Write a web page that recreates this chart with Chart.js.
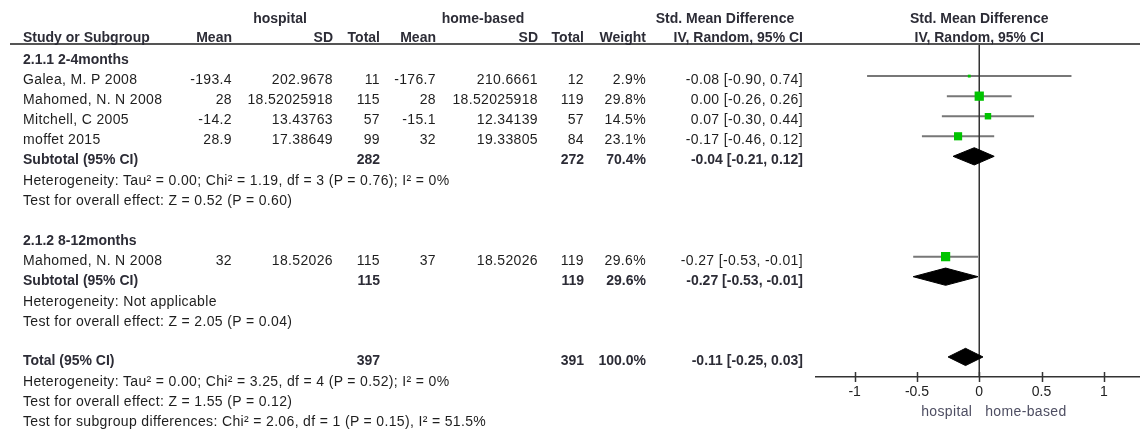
<!DOCTYPE html>
<html>
<head>
<meta charset="utf-8">
<script src="https://cdn.jsdelivr.net/npm/chart.js@4.4.1/dist/chart.umd.min.js"></script>
<style>
  html, body { margin: 0; padding: 0; background: #fff; }
  #wrap { position: relative; width: 1140px; height: 430px; overflow: hidden;
          font-family: "Liberation Sans", Arial, sans-serif; font-size: 14px; color: #1e1e1e; }
  #plot { position: absolute; left: 0; top: 0; }
  .t { position: absolute; white-space: nowrap; line-height: 16px; letter-spacing: 0.35px; }
  .b { font-weight: bold; color: #2c2c36; letter-spacing: 0; }
  #rule { position: absolute; left: 10px; right: 0; top: 43px; height: 2px; background: #555; }
</style>
</head>
<body>
<div id="wrap">
  <canvas id="plot" width="1140" height="430"></canvas>
  <div id="rule"></div>
</div>
<script>
// studies (row = line number in the table, 0 = first subgroup heading)
const studyNames = ["Galea, M. P 2008", "Mahomed, N. N 2008", "Mitchell, C 2005", "moffet 2015", "Mahomed, N. N 2008"];
const studyRows = [1, 2, 3, 4, 10];
const hospMean = [-193.4, 28, -14.2, 28.9, 32];
const hospSD = [202.9678, 18.52025918, 13.43763, 17.38649, 18.52026];
const hospN = [11, 115, 57, 99, 115];
const homeMean = [-176.7, 28, -15.1, 32, 37];
const homeSD = [210.6661, 18.52025918, 12.34139, 19.33805, 18.52026];
const homeN = [12, 119, 57, 84, 119];
const weights = [2.9, 29.8, 14.5, 23.1, 29.6];
const smd = [-0.08, 0.00, 0.07, -0.17, -0.27];
const ciLow = [-0.90, -0.26, -0.30, -0.46, -0.53];
const ciHigh = [0.74, 0.26, 0.44, 0.12, -0.01];

// subtotals and total
const pooledLabels = ["Subtotal (95% CI)", "Subtotal (95% CI)", "Total (95% CI)"];
const pooledRows = [5, 11, 15];
const pooledHospN = [282, 115, 397];
const pooledHomeN = [272, 119, 391];
const pooledWeight = [70.4, 29.6, 100.0];
const pooledSmd = [-0.04, -0.27, -0.11];
const pooledLow = [-0.21, -0.53, -0.25];
const pooledHigh = [0.12, -0.01, 0.03];

const groupLabels = ["2.1.1 2-4months", "2.1.2 8-12months"];
const groupRows = [0, 9];

const noteLines = [
  "Heterogeneity: Tau² = 0.00; Chi² = 1.19, df = 3 (P = 0.76); I² = 0%",
  "Test for overall effect: Z = 0.52 (P = 0.60)",
  "Heterogeneity: Not applicable",
  "Test for overall effect: Z = 2.05 (P = 0.04)",
  "Heterogeneity: Tau² = 0.00; Chi² = 3.25, df = 4 (P = 0.52); I² = 0%",
  "Test for overall effect: Z = 1.55 (P = 0.12)",
  "Test for subgroup differences: Chi² = 2.06, df = 1 (P = 0.15), I² = 51.5%"
];
const noteRows = [6, 7, 12, 13, 16, 17, 18];

const tickValues = [-1, -0.5, 0, 0.5, 1];
const tickLabels = ["-1", "-0.5", "0", "0.5", "1"];
const favourLabels = ["hospital", "home-based"];

const FONT = '"Liberation Sans", Arial, sans-serif';
const f2 = (v) => v.toFixed(2);
const ciText = (e, l, h) => `${f2(e)} [${f2(l)}, ${f2(h)}]`;

// datasets
const datasets = [];
studyRows.forEach((r, i) => {
  datasets.push({
    data: [{ x: ciLow[i], y: r }, { x: ciHigh[i], y: r }],
    showLine: true, pointRadius: 0, borderColor: "#777", borderWidth: 2, order: 4
  });
});
datasets.push({
  data: [{ x: 0, y: -0.6 }, { x: 0, y: 16 }],
  showLine: true, pointRadius: 0, borderColor: "#333", borderWidth: 1.5, order: 3
});
pooledRows.forEach((r, i) => {
  datasets.push({
    data: [
      { x: pooledLow[i], y: r },
      { x: pooledSmd[i], y: r - 0.43 },
      { x: pooledHigh[i], y: r },
      { x: pooledSmd[i], y: r + 0.43 },
      { x: pooledLow[i], y: r }
    ],
    showLine: true, pointRadius: 0, borderColor: "#000", backgroundColor: "#000",
    borderWidth: 1, fill: "shape", tension: 0, order: 2
  });
});
datasets.push({
  data: studyRows.map((r, i) => ({ x: smd[i], y: r })),
  pointStyle: "rect",
  pointRadius: weights.map((w) => 1.2 * Math.sqrt(w)),
  pointBackgroundColor: "#00c400", pointBorderWidth: 0, borderWidth: 0, order: 1
});

const crossTicks = {
  id: "crossTicks",
  afterDraw(chart) {
    const sx = chart.scales.x;
    const yb = chart.chartArea.bottom;
    const ctx = chart.ctx;
    ctx.save();
    ctx.strokeStyle = "#333";
    ctx.lineWidth = 1.5;
    sx.ticks.forEach((t) => {
      const px = Math.round(sx.getPixelForValue(t.value)) + 0.5;
      ctx.beginPath();
      ctx.moveTo(px, yb - 5);
      ctx.lineTo(px, yb + 5);
      ctx.stroke();
    });
    ctx.restore();
  }
};

const chart = new Chart(document.getElementById("plot"), {
  type: "scatter",
  data: { datasets },
  options: {
    responsive: false,
    animation: false,
    layout: { autoPadding: false, padding: { left: 816, top: 44, right: 0, bottom: 0 } },
    plugins: { legend: { display: false }, tooltip: { enabled: false } },
    scales: {
      x: {
        type: "linear", min: -1.31, max: 1.29,
        grid: { display: false, drawTicks: false },
        border: { display: true, color: "#333", width: 1.5 },
        afterBuildTicks: (s) => { s.ticks = tickValues.map((v) => ({ value: v })); },
        afterFit: (s) => { s.height = 53; },
        ticks: {
          color: "#222", padding: 7, maxRotation: 0, autoSkip: false,
          font: { family: FONT, size: 14 },
          callback: (v, i) => tickLabels[i]
        }
      },
      y: { type: "linear", display: false, min: -0.6, max: 16, reverse: true }
    }
  },
  plugins: [crossTicks]
});

// table text
const wrap = document.getElementById("wrap");
function put(text, x, y, align, bold, color) {
  const d = document.createElement("div");
  d.className = "t" + (bold ? " b" : "");
  d.textContent = text;
  d.style.top = y + "px";
  if (align === "right") {
    d.style.right = (1140 - x) + "px";
    d.style.transform = "translateY(-50%)";
  } else if (align === "center") {
    d.style.left = x + "px";
    d.style.transform = "translate(-50%,-50%)";
  } else {
    d.style.left = x + "px";
    d.style.transform = "translateY(-50%)";
  }
  if (color) d.style.color = color;
  wrap.appendChild(d);
}

const sy = chart.scales.y;
const sx = chart.scales.x;
const rowY = (r) => sy.getPixelForValue(r) + 3;
const zeroX = sx.getPixelForValue(0);

// column right edges
const COL = { hM: 232, hSD: 333, hN: 380, oM: 436, oSD: 538, oN: 584, w: 646, ci: 803 };

// headers
put("hospital", 280, 18, "center", true);
put("home-based", 483, 18, "center", true);
put("Std. Mean Difference", 725, 18, "center", true);
put("Std. Mean Difference", zeroX, 18, "center", true);
put("Study or Subgroup", 23, 37, "left", true);
put("Mean", COL.hM, 37, "right", true);
put("SD", COL.hSD, 37, "right", true);
put("Total", COL.hN, 37, "right", true);
put("Mean", COL.oM, 37, "right", true);
put("SD", COL.oSD, 37, "right", true);
put("Total", COL.oN, 37, "right", true);
put("Weight", COL.w, 37, "right", true);
put("IV, Random, 95% CI", COL.ci, 37, "right", true);
put("IV, Random, 95% CI", zeroX, 37, "center", true);

groupLabels.forEach((g, i) => put(g, 23, rowY(groupRows[i]), "left", true));

studyRows.forEach((r, i) => {
  const y = rowY(r);
  put(studyNames[i], 23, y, "left");
  put(String(hospMean[i]), COL.hM, y, "right");
  put(String(hospSD[i]), COL.hSD, y, "right");
  put(String(hospN[i]), COL.hN, y, "right");
  put(String(homeMean[i]), COL.oM, y, "right");
  put(String(homeSD[i]), COL.oSD, y, "right");
  put(String(homeN[i]), COL.oN, y, "right");
  put(weights[i].toFixed(1) + "%", COL.w, y, "right");
  put(ciText(smd[i], ciLow[i], ciHigh[i]), COL.ci, y, "right");
});

pooledRows.forEach((r, i) => {
  const y = rowY(r);
  put(pooledLabels[i], 23, y, "left", true);
  put(String(pooledHospN[i]), COL.hN, y, "right", true);
  put(String(pooledHomeN[i]), COL.oN, y, "right", true);
  put(pooledWeight[i].toFixed(1) + "%", COL.w, y, "right", true);
  put(ciText(pooledSmd[i], pooledLow[i], pooledHigh[i]), COL.ci, y, "right", true);
});

noteRows.forEach((r, i) => put(noteLines[i], 23, rowY(r) + 1, "left"));

put(favourLabels[0], zeroX - 7, 411, "right", false, "#4e4e62");
put(favourLabels[1], zeroX + 6, 411, "left", false, "#4e4e62");
</script>
</body>
</html>
